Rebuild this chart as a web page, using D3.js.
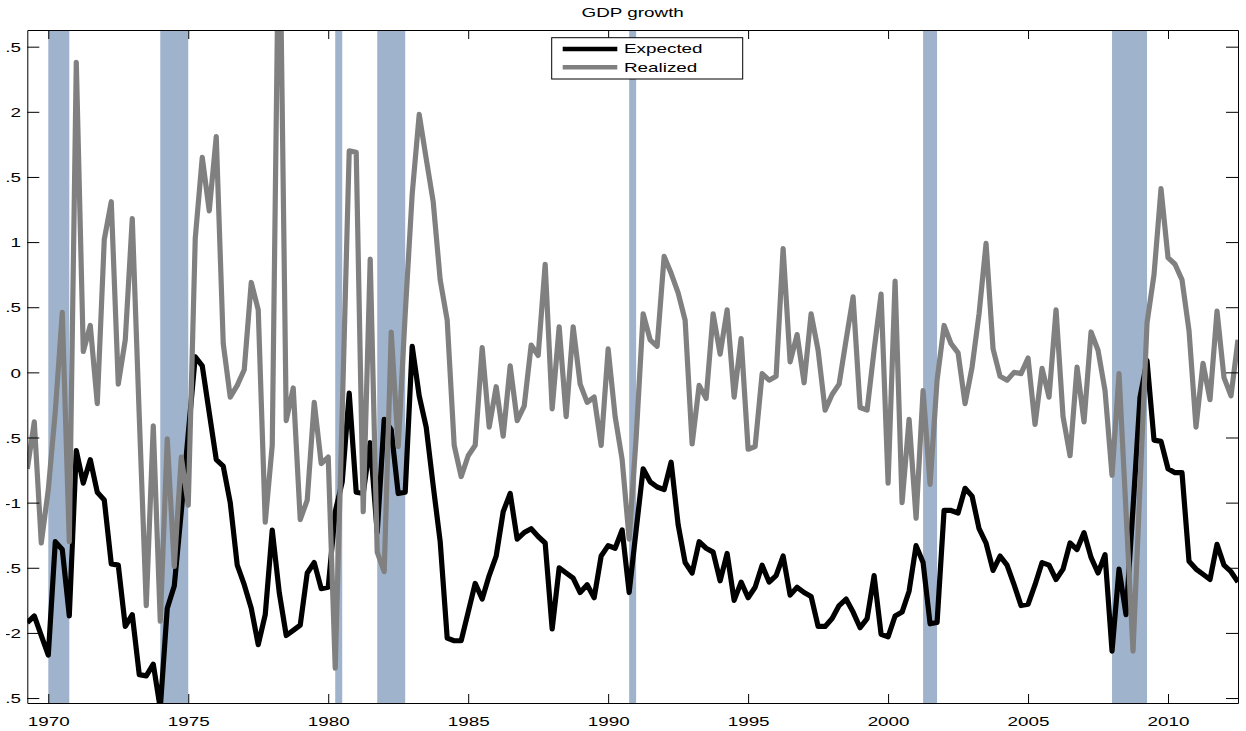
<!DOCTYPE html>
<html>
<head>
<meta charset="utf-8">
<title>GDP growth</title>
<script src="https://d3js.org/d3.v7.min.js"></script>
<style>
  body { margin: 0; background: #fff; }
  svg { display: block; }
</style>
</head>
<body>
<svg width="1246" height="731"></svg>
<script>
// quarterly observations, the first one is 1969Q2
var startYear = 1969.25;

var expected = [
  -1.92, -1.87, -2.02, -2.17, -1.30, -1.36, -1.87, -0.60, -0.85, -0.67, -0.92, -0.98, -1.47, -1.48, -1.95, -1.86,
  -2.32, -2.33, -2.24, -2.58, -1.81, -1.64, -1.07, -0.47, 0.12, 0.05, -0.31, -0.67, -0.72, -1.00, -1.48,
  -1.63, -1.81, -2.09, -1.86, -1.21, -1.69, -2.02, -1.98, -1.94, -1.54, -1.46, -1.66, -1.65, -1.07, -0.84,
  -0.16, -0.92, -0.93, -0.54, -1.23, -0.36, -0.44, -0.93, -0.92, 0.20, -0.18, -0.42, -0.87, -1.30, -2.04,
  -2.06, -2.06, -1.84, -1.62, -1.74, -1.56, -1.41, -1.07, -0.93, -1.28, -1.23, -1.20, -1.26, -1.31, -1.97,
  -1.50, -1.54, -1.58, -1.69, -1.63, -1.73, -1.41, -1.33, -1.35, -1.21, -1.69, -1.21, -0.74, -0.84, -0.88,
  -0.90, -0.69, -1.17, -1.46, -1.54, -1.30, -1.35, -1.38, -1.60, -1.39, -1.75, -1.61, -1.73, -1.65, -1.48,
  -1.61, -1.56, -1.41, -1.71, -1.65, -1.69, -1.72, -1.95, -1.95, -1.89, -1.79, -1.74, -1.84, -1.96, -1.89,
  -1.56, -2.01, -2.03, -1.87, -1.84, -1.68, -1.33, -1.46, -1.93, -1.92, -1.06, -1.06, -1.08, -0.89, -0.95,
  -1.20, -1.31, -1.52, -1.41, -1.48, -1.63, -1.79, -1.78, -1.63, -1.46, -1.48, -1.59, -1.51, -1.31, -1.36,
  -1.23, -1.42, -1.54, -1.40, -2.14, -1.51, -1.86, -1.04, -0.19, 0.09, -0.52, -0.53, -0.74, -0.77, -0.77,
  -1.45, -1.51, -1.55, -1.59, -1.32, -1.48, -1.53, -1.61
];

var realized = [
  -0.74, -0.38, -1.31, -0.90, -0.30, 0.46, -1.30, 2.38, 0.16, 0.36, -0.24, 1.02, 1.31, -0.09, 0.25, 1.18,
  -0.34, -1.79, -0.41, -1.91, -0.51, -1.49, -0.65, -1.02, 1.03, 1.65, 1.24, 1.81, 0.22, -0.19, -0.10,
  0.02, 0.69, 0.48, -1.15, -0.56, 3.80, -0.37, -0.12, -1.13, -0.98, -0.23, -0.70, -0.65, -2.27, -0.30,
  1.70, 1.69, -1.07, 0.87, -1.38, -1.53, 0.31, -0.57, 0.45, 1.37, 1.98, 1.64, 1.31, 0.71, 0.40,
  -0.56, -0.80, -0.64, -0.56, 0.19, -0.42, -0.11, -0.49, 0.05, -0.37, -0.26, 0.21, 0.13, 0.83, -0.28,
  0.35, -0.34, 0.35, -0.09, -0.23, -0.19, -0.56, 0.18, -0.34, -0.67, -1.28, -0.50, 0.45, 0.25, 0.20,
  0.89, 0.76, 0.61, 0.40, -0.55, -0.10, -0.20, 0.45, 0.14, 0.48, -0.19, 0.26, -0.59, -0.57, -0.01,
  -0.06, -0.03, 0.95, 0.08, 0.29, -0.08, 0.45, 0.17, -0.29, -0.17, -0.09, 0.25, 0.58, -0.27, -0.29,
  0.17, 0.60, -0.85, 0.70, -1.00, -0.36, -1.12, -0.14, -0.86, -0.06, 0.36, 0.22, 0.15, -0.24, 0.04,
  0.45, 0.99, 0.18, -0.03, -0.06, 0.00, -0.01, 0.11, -0.40, 0.03, -0.19, 0.48, -0.34, -0.64, 0.04,
  -0.38, 0.31, 0.17, -0.14, -0.79, -0.01, -1.07, -2.14, -0.87, 0.38, 0.75, 1.41, 0.88, 0.83, 0.71,
  0.32, -0.42, 0.07, -0.21, 0.47, -0.04, -0.18, 0.25
];

// recession periods (start, end) in fractional years
var recessions = [
  [1970.0, 1970.75], [1974.0, 1975.0], [1980.25, 1980.5], [1981.75, 1982.75],
  [1990.75, 1991.0], [2001.25, 2001.75], [2008.0, 2009.25]
];

var xTicks = [1970, 1975, 1980, 1985, 1990, 1995, 2000, 2005, 2010];
var yTicks = [2.5, 2, 1.5, 1, 0.5, 0, -0.5, -1, -1.5, -2, -2.5];

var seriesNames = ["Expected", "Realized"];
var seriesColors = ["#000000", "#808080"];

// ---- layout ----
var plotLeft = 27.3, plotRight = 1238, plotTop = 30, plotBottom = 703;
var stretch = 1.45;   // text in the figure is drawn wider than normal
var font = "'Liberation Sans', Arial, Helvetica, sans-serif";

var svg = d3.select("svg");

var x = d3.scaleLinear()
  .domain([startYear, startYear + (realized.length - 1) / 4])
  .range([plotLeft, plotRight]);

var y = d3.scaleLinear()
  .domain([-2.538, 2.628])
  .range([plotBottom, plotTop]);

var defs = svg.append("defs");

defs.append("clipPath")
  .attr("id", "plot-clip")
  .append("rect")
  .attr("x", plotLeft).attr("y", plotTop)
  .attr("width", plotRight - plotLeft).attr("height", plotBottom - plotTop);

// the y labels are cut at the left edge in the figure
defs.append("clipPath")
  .attr("id", "label-clip")
  .append("rect")
  .attr("x", 6).attr("y", 0)
  .attr("width", 1240).attr("height", 731);

var plot = svg.append("g").attr("clip-path", "url(#plot-clip)");

// recession shading
plot.selectAll("rect.rec")
  .data(recessions)
  .enter()
  .append("rect")
  .attr("class", "rec")
  .attr("x", function(d) { return x(d[0]); })
  .attr("y", plotTop)
  .attr("width", function(d) { return x(d[1]) - x(d[0]); })
  .attr("height", plotBottom - plotTop)
  .attr("fill", "#9fb4cc");

// lines
var line = d3.line()
  .x(function(d, i) { return x(startYear + i / 4); })
  .y(function(d) { return y(d); });

[expected, realized].forEach(function(values, k) {
  plot.append("path")
    .datum(values)
    .attr("d", line)
    .attr("fill", "none")
    .attr("stroke", seriesColors[k])
    .attr("stroke-width", 5.2)
    .attr("stroke-linejoin", "round");
});

// axes
function styleAxis(g) {
  g.attr("font-family", font).attr("font-size", 13);
  g.selectAll("path, line").attr("stroke", "#000").attr("stroke-width", 1);
}

svg.append("g")
  .attr("transform", "translate(0," + plotBottom + ")")
  .call(d3.axisBottom(x).tickValues(xTicks).tickSize(-9).tickSizeOuter(0).tickFormat(d3.format("d")))
  .call(styleAxis)
  .call(function(g) {
    g.selectAll(".tick text")
      .attr("y", 22.7).attr("dy", null)
      .attr("fill", "#000")
      .attr("transform", "scale(" + stretch + ",1)");
  });

svg.append("g")
  .attr("transform", "translate(0," + plotTop + ")")
  .call(d3.axisTop(x).tickValues(xTicks).tickSize(-9).tickSizeOuter(0).tickFormat(""))
  .call(styleAxis);

svg.append("g")
  .attr("clip-path", "url(#label-clip)")
  .append("g")
  .attr("transform", "translate(" + plotLeft + ",0)")
  .call(d3.axisLeft(y).tickValues(yTicks).tickSize(-12).tickSizeOuter(0)
    .tickFormat(function(d) { return String(d); }))
  .call(styleAxis)
  .call(function(g) {
    g.selectAll(".tick text")
      .attr("x", -6.3 / stretch)
      .attr("dy", "0.36em")
      .attr("fill", "#000")
      .attr("transform", "scale(" + stretch + ",1)");
  });

svg.append("g")
  .attr("transform", "translate(" + plotRight + ",0)")
  .call(d3.axisRight(y).tickValues(yTicks).tickSize(-12).tickSizeOuter(0).tickFormat(""))
  .call(styleAxis);

// title
svg.append("text")
  .attr("transform", "translate(632.7,17.3) scale(" + stretch + ",1)")
  .attr("text-anchor", "middle")
  .attr("font-family", font)
  .attr("font-size", 13)
  .text("GDP growth");

// legend
var legend = svg.append("g");

legend.append("rect")
  .attr("x", 551.7).attr("y", 37.7)
  .attr("width", 191).attr("height", 41.3)
  .attr("fill", "#fff")
  .attr("stroke", "#000")
  .attr("stroke-width", 1);

var legendRows = legend.selectAll("g.row")
  .data(seriesNames)
  .enter()
  .append("g")
  .attr("class", "row")
  .attr("transform", function(d, i) { return "translate(0," + (49 + i * 18.3) + ")"; });

legendRows.append("line")
  .attr("x1", 562.7).attr("x2", 617.3)
  .attr("y1", 0).attr("y2", 0)
  .attr("stroke", function(d, i) { return seriesColors[i]; })
  .attr("stroke-width", 4.4);

legendRows.append("text")
  .attr("transform", "translate(624,4.2) scale(" + stretch + ",1)")
  .attr("font-family", font)
  .attr("font-size", 13)
  .text(function(d) { return d; });
</script>
</body>
</html>
